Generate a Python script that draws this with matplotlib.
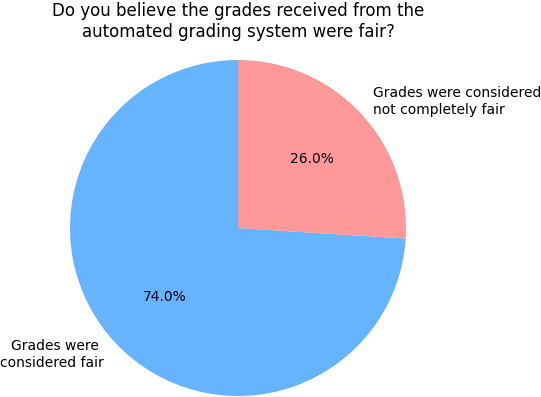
import matplotlib.pyplot as plt

# Survey answers
labels = ["Grades were \nconsidered fair", "Grades were considered\nnot completely fair"]
sizes = [74, 26]
colors = ["#66b3ff", "#ff9999"]
title = "Do you believe the grades received from the\nautomated grading system were fair?"

fig = plt.figure(figsize=(5.41, 3.97), dpi=100)
# axes placed so the pie sits like in the original (tight-cropped) image
ax = fig.add_axes([28 / 541, (169 - 210) / 397, 420 / 541, 420 / 397])
ax.pie(sizes, labels=labels, colors=colors, autopct="%1.1f%%", startangle=90)
ax.set_xlim(-1.25, 1.25)
ax.set_ylim(-1.25, 1.25)
ax.set_aspect("equal")

fig.text(238 / 541, 1 - 2 / 397, title, ha="center", va="top", fontsize=12)

fig.savefig("out.png", dpi=100)
